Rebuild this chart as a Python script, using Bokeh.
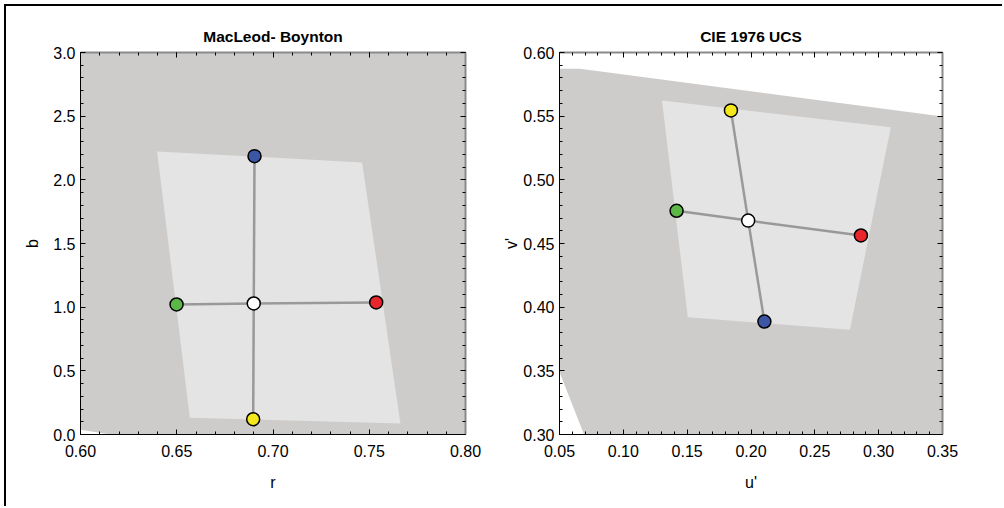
from bokeh.plotting import figure
from bokeh.layouts import row
from bokeh.models import Range1d, LinearAxis, FixedTicker, NumeralTickFormatter
from bokeh.embed import file_html
from bokeh.resources import INLINE

# ---------------- data ----------------
point_names = ["center", "green", "red", "blue", "yellow"]
point_colors = ["#ffffff", "#5bb846", "#e8262b", "#3b56a5", "#f4e71c"]

# MacLeod-Boynton
mb_r = [0.6900, 0.6499, 0.7536, 0.6904, 0.6897]
mb_b = [1.029, 1.021, 1.037, 2.186, 0.120]
mb_gamut_r = [0.6000, 0.6156, 0.8000, 0.8000, 0.6000]
mb_gamut_b = [0.037, 0.000, 0.000, 3.000, 3.000]
mb_quad_r = [0.6398, 0.7463, 0.7662, 0.6568]
mb_quad_b = [2.223, 2.137, 0.086, 0.131]

# CIE 1976 UCS
ucs_u = [0.1978, 0.1417, 0.2861, 0.2105, 0.1843]
ucs_v = [0.4680, 0.4757, 0.4563, 0.3887, 0.5545]
ucs_gamut_u = [0.0500, 0.0500, 0.0660, 0.3500, 0.3500, 0.0692]
ucs_gamut_v = [0.3490, 0.5872, 0.5872, 0.5497, 0.3000, 0.3000]
ucs_quad_u = [0.1303, 0.3095, 0.2775, 0.1505]
ucs_quad_v = [0.5623, 0.5413, 0.3822, 0.3921]

FONT = "Liberation Sans"
DARK = "#cdccca"
LIGHT = "#e4e4e4"
LINE = "#999999"


def make_plot(title, xs, ys, gx, gy, qx, qy, xr, yr, xmaj, xmin_, ymaj, ymin_,
              xfmt, yfmt, xlabel, ylabel, ylab_standoff, width, mb_left, mb_right):
    p = figure(width=width, height=502, title=title,
               x_range=Range1d(*xr), y_range=Range1d(*yr),
               output_backend="svg", toolbar_location=None,
               min_border_left=mb_left, min_border_right=mb_right,
               min_border_top=46, min_border_bottom=74,
               x_axis_label=xlabel, y_axis_label=ylabel)
    bottom = p.below[0]
    left = p.left[0]
    p.grid.visible = False
    p.outline_line_color = None
    p.background_fill_color = "white"
    p.title.text_font = FONT
    p.title.text_font_size = "15.5px"
    p.title.text_font_style = "bold"
    p.title.text_color = "black"
    p.title.align = "center"
    p.title.standoff = 15

    p.patch(gx, gy, fill_color=DARK, line_color=None)
    p.patch(qx, qy, fill_color=LIGHT, line_color=None)
    for i in range(1, len(xs)):
        p.line([xs[0], xs[i]], [ys[0], ys[i]], line_color=LINE, line_width=2.5)
    p.scatter(xs, ys, size=13, fill_color=point_colors, line_color="black",
              line_width=1.5)

    xt = FixedTicker(ticks=xmaj, minor_ticks=xmin_)
    yt = FixedTicker(ticks=ymaj, minor_ticks=ymin_)
    top = LinearAxis(ticker=xt)
    right = LinearAxis(ticker=yt)
    p.add_layout(top, "above")
    p.add_layout(right, "right")

    for ax in [bottom, left, top, right]:
        ax.major_tick_in = 5
        ax.major_tick_out = 0
        ax.minor_tick_in = 3
        ax.minor_tick_out = 0
        ax.major_tick_line_color = "black"
        ax.minor_tick_line_color = "black"
        ax.major_label_text_font = FONT
        ax.major_label_text_font_size = "16px"
        ax.major_label_text_color = "black"
        ax.axis_label_text_font = FONT
        ax.axis_label_text_font_size = "16px"
        ax.axis_label_text_font_style = "normal"
        ax.axis_label_text_color = "black"
        ax.major_label_standoff = 5
    bottom.major_label_standoff = 10
    bottom.ticker = xt
    left.ticker = yt
    bottom.formatter = NumeralTickFormatter(format=xfmt)
    left.formatter = NumeralTickFormatter(format=yfmt)
    bottom.axis_line_color = "black"
    left.axis_line_color = "black"
    bottom.axis_label_standoff = 14
    left.axis_label_standoff = ylab_standoff
    for ax in [top, right]:
        ax.axis_line_color = "#8a8a8a"
        ax.axis_line_width = 2
        ax.major_label_text_font_size = "0px"
        ax.major_label_text_color = None
        ax.major_label_standoff = 0
    return p


def ticks(a, b, step):
    n = int(round((b - a) / step))
    return [round(a + i * step, 4) for i in range(n + 1)]


p1 = make_plot("MacLeod- Boynton", mb_r, mb_b, mb_gamut_r, mb_gamut_b, mb_quad_r, mb_quad_b,
               (0.6, 0.8), (0.0, 3.0),
               ticks(0.6, 0.8, 0.05), ticks(0.6, 0.8, 0.01),
               ticks(0.0, 3.0, 0.5), ticks(0.0, 3.0, 0.1),
               "0.00", "0.0", "r", "b", 9, 494, 74, 35)
p2 = make_plot("CIE 1976 UCS", ucs_u, ucs_v, ucs_gamut_u, ucs_gamut_v, ucs_quad_u, ucs_quad_v,
               (0.05, 0.35), (0.30, 0.60),
               ticks(0.05, 0.35, 0.05), ticks(0.05, 0.35, 0.01),
               ticks(0.30, 0.60, 0.05), ticks(0.30, 0.60, 0.01),
               "0.00", "0.00", "u'", "v'", 0, 504, 57, 62)

layout = row(p1, p2, styles={"margin-left": "6px", "margin-top": "6px",
                             "box-shadow": "-2px -2px 0 0 black"})

open("out.html", "w").write(file_html(layout, INLINE))
